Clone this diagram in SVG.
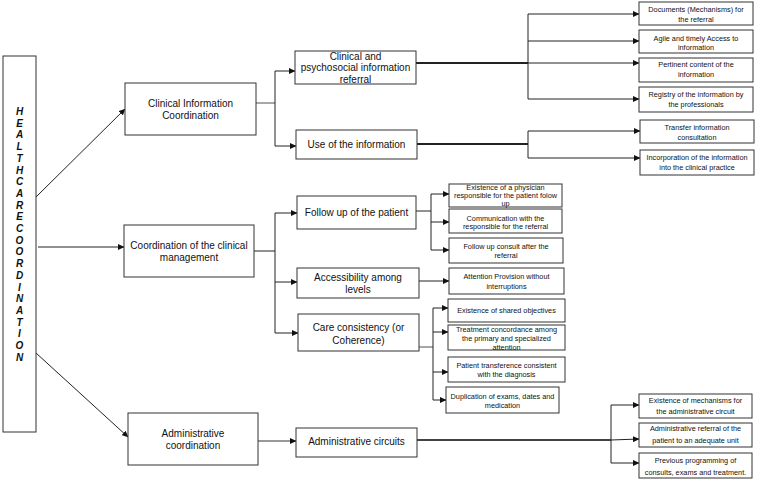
<svg xmlns="http://www.w3.org/2000/svg" width="757" height="480" viewBox="0 0 757 480">
<defs>
<marker id="ah" markerUnits="userSpaceOnUse" markerWidth="7" markerHeight="6" refX="6" refY="3" orient="auto">
<path d="M0,0 L6.5,3 L0,6 z" fill="#111"/>
</marker>
<style>
rect{fill:#fff;stroke:#333;stroke-width:1}
text{font-family:"Liberation Sans",Arial,sans-serif;fill:#111;text-anchor:middle}
.l1{font-size:10px}
.s{font-size:7.3px}
.v{font-size:10px;font-weight:bold;font-style:italic}
.c{fill:none;stroke:#222;stroke-width:1}
.g{fill:none;stroke:#777;stroke-width:1.3}
.t{fill:none;stroke:#222;stroke-width:2}
.a{marker-end:url(#ah)}
</style>
</defs>
<rect x="0" y="0" width="757" height="480" style="fill:#fff;stroke:none"/>

<g id="connectors">
<path class="c a" d="M36,197 L125,109"/>
<path class="c a" d="M38,247 L124,247"/>
<path class="c a" d="M36,353 L128,437"/>

<path class="g" d="M256,103 L275,103"/>
<path class="c" d="M275,71 L275,146"/>
<path class="c a" d="M275,71 L295,71"/>
<path class="c a" d="M275,146 L296,146"/>

<path class="t" d="M416,63 L528,63"/>
<path class="c" d="M528,14 L528,99"/>
<path class="c a" d="M528,14 L639,14"/>
<path class="c a" d="M528,41 L639,41"/>
<path class="c a" d="M528,63 L639,63"/>
<path class="c a" d="M528,99 L639,99"/>
<path class="t" d="M417,144 L528,144"/>
<path class="c" d="M528,131 L528,158"/>
<path class="c a" d="M528,131 L640,131"/>
<path class="c a" d="M528,158 L640,158"/>

<path class="c" d="M254,251 L275,251"/>
<path class="c" d="M275,213 L275,333"/>
<path class="c a" d="M275,213 L297,213"/>
<path class="c a" d="M275,282 L297,282"/>
<path class="c a" d="M275,333 L298,333"/>

<path class="c" d="M416,211 L431,211"/>
<path class="c" d="M431,194 L431,250"/>
<path class="c a" d="M431,194 L449,194"/>
<path class="c a" d="M431,222 L449,222"/>
<path class="c a" d="M431,250 L449,250"/>

<path class="c a" d="M419,281 L449,281"/>

<path class="g" d="M419,347 L433,347"/>
<path class="c" d="M433,308 L433,400"/>
<path class="c a" d="M433,308 L448,308"/>
<path class="c a" d="M433,332 L448,332"/>
<path class="c a" d="M433,372 L448,372"/>
<path class="c a" d="M433,400 L446,400"/>

<path class="g a" d="M258,441 L296,441"/>
<path class="t" d="M417,440 L611,440" style="stroke:#444"/>
<path class="c" d="M611,405 L611,463"/>
<path class="c a" d="M611,405 L639,405"/>
<path class="c a" d="M611,440 L639,439"/>
<path class="c a" d="M611,463 L639,463"/>
</g>

<g id="healthcare-coordination">
<rect x="3" y="56" width="33" height="376"/>
<text class="v" x="19.5" y="115">H</text>
<text class="v" x="19.5" y="126.7">E</text>
<text class="v" x="19.5" y="138.4">A</text>
<text class="v" x="19.5" y="150.1">L</text>
<text class="v" x="19.5" y="161.8">T</text>
<text class="v" x="19.5" y="173.5">H</text>
<text class="v" x="19.5" y="185.2">C</text>
<text class="v" x="19.5" y="196.9">A</text>
<text class="v" x="19.5" y="208.6">R</text>
<text class="v" x="19.5" y="220.3">E</text>
<text class="v" x="19.5" y="232">C</text>
<text class="v" x="19.5" y="243.7">O</text>
<text class="v" x="19.5" y="255.4">O</text>
<text class="v" x="19.5" y="267.1">R</text>
<text class="v" x="19.5" y="278.8">D</text>
<text class="v" x="19.5" y="290.5">I</text>
<text class="v" x="19.5" y="302.2">N</text>
<text class="v" x="19.5" y="313.9">A</text>
<text class="v" x="19.5" y="325.6">T</text>
<text class="v" x="19.5" y="337.3">I</text>
<text class="v" x="19.5" y="349">O</text>
<text class="v" x="19.5" y="360.7">N</text>
</g>

<g id="clinical-information-coordination">
<rect x="125" y="83" width="131" height="52"/>
<text class="l1" x="190.5" y="106.5">Clinical Information</text>
<text class="l1" x="190.5" y="118.5">Coordination</text>
</g>
<g id="coordination-clinical-management">
<rect x="124" y="225" width="130" height="52"/>
<text class="l1" x="189" y="248.5">Coordination of the clinical</text>
<text class="l1" x="189" y="260.5">management</text>
</g>
<g id="administrative-coordination">
<rect x="128" y="413" width="130" height="52"/>
<text class="l1" x="193" y="436.5">Administrative</text>
<text class="l1" x="193" y="448.5">coordination</text>
</g>

<g id="clinical-psychosocial-referral">
<rect x="295" y="51" width="121" height="33"/>
<text class="l1" x="355.5" y="59.5">Clinical and</text>
<text class="l1" x="355.5" y="71">psychosocial information</text>
<text class="l1" x="355.5" y="82.5">referral</text>
</g>
<g id="use-of-information">
<rect x="296" y="130" width="121" height="29"/>
<text class="l1" x="356.5" y="147.5">Use of the information</text>
</g>
<g id="follow-up-patient">
<rect x="297" y="196" width="119" height="33"/>
<text class="l1" x="356.5" y="215.5">Follow up of the patient</text>
</g>
<g id="accessibility-levels">
<rect x="297" y="268" width="122" height="30"/>
<text class="l1" x="358" y="280.5">Accessibility among</text>
<text class="l1" x="358" y="292.5">levels</text>
</g>
<g id="care-consistency">
<rect x="298" y="314" width="121" height="37"/>
<text class="l1" x="358.5" y="330.5">Care consistency (or</text>
<text class="l1" x="358.5" y="343.5">Coherence)</text>
</g>
<g id="administrative-circuits">
<rect x="296" y="428" width="121" height="29"/>
<text class="l1" x="356.5" y="444.5">Administrative circuits</text>
</g>

<g id="documents-mechanisms">
<rect x="639" y="2" width="114" height="23"/>
<text class="s" x="696" y="11.6">Documents (Mechanisms) for</text>
<text class="s" x="696" y="21.6">the referral</text>
</g>
<g id="agile-access">
<rect x="639" y="30" width="114" height="23"/>
<text class="s" x="696" y="40.6">Agile and timely Access to</text>
<text class="s" x="696" y="49.8">information</text>
</g>
<g id="pertinent-content">
<rect x="639" y="58" width="114" height="24"/>
<text class="s" x="696" y="67">Pertinent content of the</text>
<text class="s" x="696" y="77">information</text>
</g>
<g id="registry-information">
<rect x="639" y="87" width="114" height="25"/>
<text class="s" x="696" y="97">Registry of the information by</text>
<text class="s" x="696" y="107">the professionals</text>
</g>
<g id="transfer-consultation">
<rect x="640" y="120" width="114" height="23"/>
<text class="s" x="697" y="130">Transfer information</text>
<text class="s" x="697" y="140">consultation</text>
</g>
<g id="incorporation-information">
<rect x="640" y="150" width="114" height="25"/>
<text class="s" x="697" y="160">Incorporation of the information</text>
<text class="s" x="697" y="170">into the clinical practice</text>
</g>

<g id="physician-responsible">
<rect x="449" y="184" width="113" height="23"/>
<text class="s" x="505.5" y="189.6">Existence of a physician</text>
<text class="s" x="505.5" y="197.6">responsible for the patient  folow</text>
<text class="s" x="505.5" y="205.6">up</text>
</g>
<g id="communication-responsible">
<rect x="449" y="209" width="113" height="24"/>
<text class="s" x="505.5" y="220.6">Communication  with the</text>
<text class="s" x="505.5" y="228.8">responsible for the referral</text>
</g>
<g id="follow-up-consult">
<rect x="449" y="238" width="114" height="25"/>
<text class="s" x="506" y="248.6">Follow up consult after the</text>
<text class="s" x="506" y="257.6">referral</text>
</g>
<g id="attention-provision">
<rect x="449" y="268" width="115" height="26"/>
<text class="s" x="506.5" y="278.6">Attention Provision  without</text>
<text class="s" x="506.5" y="288.6">interruptions</text>
</g>
<g id="shared-objectives">
<rect x="448" y="299" width="117" height="23"/>
<text class="s" x="506.5" y="312.6">Existence of shared objectives</text>
</g>
<g id="treatment-concordance">
<rect x="448" y="325" width="117" height="25"/>
<text class="s" x="506.5" y="331.6">Treatment  concordance among</text>
<text class="s" x="506.5" y="340.6">the primary and specialized</text>
<text class="s" x="506.5" y="349.6">attention</text>
</g>
<g id="patient-transference">
<rect x="448" y="357" width="117" height="25"/>
<text class="s" x="506.5" y="367.6">Patient transference consistent</text>
<text class="s" x="506.5" y="376.6">with the diagnosis</text>
</g>
<g id="duplication-exams">
<rect x="446" y="387" width="113" height="26"/>
<text class="s" x="502.5" y="398.6">Duplication  of exams, dates and</text>
<text class="s" x="502.5" y="407.6">medication</text>
</g>

<g id="mechanisms-admin-circuit">
<rect x="639" y="394" width="113" height="24"/>
<text class="s" x="695.5" y="402.6">Existence of mechanisms  for</text>
<text class="s" x="695.5" y="414.4">the administrative circuit</text>
</g>
<g id="administrative-referral">
<rect x="639" y="423" width="113" height="24"/>
<text class="s" x="695.5" y="430.8">Administrative referral of the</text>
<text class="s" x="695.5" y="442.6">patient to an adequate unit</text>
</g>
<g id="previous-programming">
<rect x="639" y="453" width="113" height="25"/>
<text class="s" x="695.5" y="462.6">Previous programming  of</text>
<text class="s" x="695.5" y="474.6">consults, exams and treatment.</text>
</g>
</svg>
